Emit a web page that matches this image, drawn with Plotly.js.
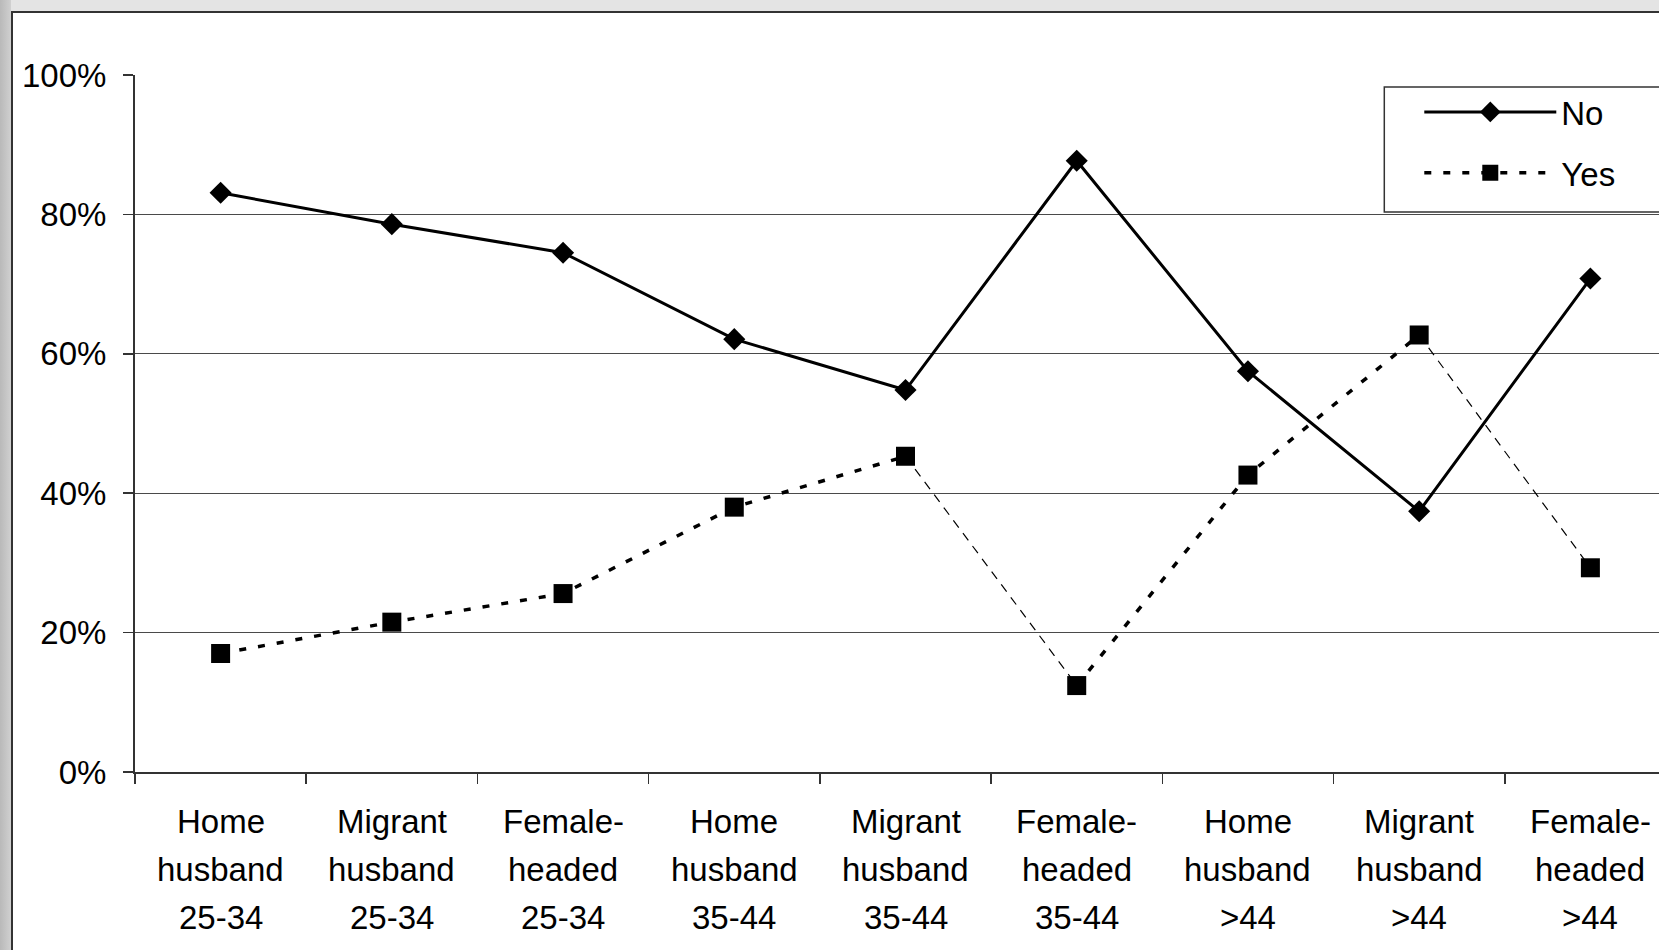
<!DOCTYPE html>
<html>
<head>
<meta charset="utf-8">
<script src="https://cdn.plot.ly/plotly-3.0.1.min.js"></script>
<style>
  html, body { margin: 0; padding: 0; width: 1659px; height: 950px; overflow: hidden; background: #e4e4e4; }
  #edge { position: absolute; left: 0; top: 0; width: 11px; height: 950px;
          background: linear-gradient(to right, #b9b9b9, #d0d0d0); }
  #frame { position: absolute; left: 11px; top: 11px; width: 1720px; height: 1000px;
           background: #ffffff; border-left: 2px solid #333; border-top: 2px solid #333; }
  #chart { position: absolute; left: 0; top: 0; width: 1700px; height: 950px; }
</style>
</head>
<body>
<div id="edge"></div>
<div id="frame"></div>
<div id="chart"></div>
<script>
// Household type by age group
const categories = [
  'Home<br>husband<br>25-34',
  'Migrant<br>husband<br>25-34',
  'Female-<br>headed<br>25-34',
  'Home<br>husband<br>35-44',
  'Migrant<br>husband<br>35-44',
  'Female-<br>headed<br>35-44',
  'Home<br>husband<br>>44',
  'Migrant<br>husband<br>>44',
  'Female-<br>headed<br>>44'
];

// Share of households (%) answering No / Yes
const noValues  = [83.1, 78.6, 74.5, 62.1, 54.8, 87.7, 57.5, 37.4, 70.8];
const yesValues = [17.0, 21.5, 25.6, 38.0, 45.3, 12.4, 42.6, 62.7, 29.3];

const yTicks = [0, 20, 40, 60, 80, 100];

// Segments of the "Yes" line drawn with a fine dash (index of the segment's first point)
const fineSegmentStarts = [4, 7];

// Page geometry (px)
const W = 1700, H = 950;
const plotLeft = 134.5, plotTop = 75, plotBottom = 772;
const catWidth = 171.25;
const plotRight = plotLeft + categories.length * catWidth;

const toPaperX = px => (px - plotLeft) / (plotRight - plotLeft);
const toPaperY = py => (plotBottom - py) / (plotBottom - plotTop);

const FONT = 'Liberation Sans, Arial, Helvetica, sans-serif';
const FS = 33;

// Split a series into the coarse-dotted path (gaps where fine segments are) and the fine path
function splitSeries(xs, ys, fineStarts) {
  const coarse = { x: [], y: [] };
  const fine = { x: [], y: [] };
  xs.forEach((x, i) => {
    coarse.x.push(x); coarse.y.push(ys[i]);
    if (fineStarts.includes(i)) {
      coarse.x.push(null); coarse.y.push(null);
      fine.x.push(x, xs[i + 1], null);
      fine.y.push(ys[i], ys[i + 1], null);
    }
  });
  return { coarse, fine };
}

const yesParts = splitSeries(categories, yesValues, fineSegmentStarts);

const traces = [
  {
    name: 'No',
    legendgroup: 'no',
    x: categories,
    y: noValues,
    type: 'scatter',
    mode: 'lines+markers',
    line: { color: '#000000', width: 3 },
    marker: { symbol: 'diamond', size: 17, color: '#000000', line: { width: 0 } },
    hoverinfo: 'skip'
  },
  {
    name: 'Yes',
    legendgroup: 'yes',
    showlegend: false,
    x: yesParts.fine.x,
    y: yesParts.fine.y,
    type: 'scatter',
    mode: 'lines',
    connectgaps: false,
    line: { color: '#000000', width: 1.2, dash: '9px,7px' },
    hoverinfo: 'skip'
  },
  {
    name: 'Yes',
    legendgroup: 'yes',
    x: yesParts.coarse.x,
    y: yesParts.coarse.y,
    type: 'scatter',
    mode: 'lines+markers',
    connectgaps: false,
    line: { color: '#000000', width: 3.5, dash: '7px,12px' },
    marker: { symbol: 'square', size: 19, color: '#000000', line: { width: 0 } },
    hoverinfo: 'skip'
  }
];

// Multi-line category labels, one annotation per line for wider line spacing
const labelAnnotations = [];
categories.forEach(cat => {
  cat.split('<br>').forEach((line, j) => {
    labelAnnotations.push({
      x: cat, xref: 'x',
      y: 0, yref: 'paper',
      yanchor: 'middle', xanchor: 'center',
      yshift: -(49 + 48 * j),
      text: line,
      showarrow: false,
      font: { family: FONT, size: FS, color: '#000000' }
    });
  });
});

const layout = {
  width: W,
  height: H,
  margin: { l: plotLeft, r: W - plotRight, t: plotTop, b: H - plotBottom, pad: 0 },
  paper_bgcolor: 'rgba(0,0,0,0)',
  plot_bgcolor: 'rgba(0,0,0,0)',
  font: { family: FONT, size: FS, color: '#000000' },
  showlegend: true,
  legend: {
    x: toPaperX(1419), xanchor: 'left',
    y: toPaperY(84), yanchor: 'top',
    bgcolor: 'rgba(0,0,0,0)',
    borderwidth: 0,
    itemwidth: 132,
    traceorder: 'grouped',
    tracegroupgap: 15,
    font: { family: FONT, size: FS, color: '#000000' }
  },
  xaxis: {
    type: 'category',
    categoryorder: 'array',
    categoryarray: categories,
    range: [-0.5, categories.length - 0.5],
    showticklabels: false,
    ticks: 'outside',
    tickson: 'boundaries',
    ticklen: 10,
    tickwidth: 1.5,
    tickcolor: '#333333',
    showline: true,
    linecolor: '#333333',
    linewidth: 2,
    showgrid: false,
    zeroline: false,
    fixedrange: true
  },
  yaxis: {
    range: [0, 100],
    tickvals: yTicks,
    ticktext: yTicks.map(v => v + '%'),
    ticks: 'outside',
    ticklen: 10,
    tickwidth: 1.5,
    tickcolor: '#333333',
    ticklabelstandoff: 10,
    tickfont: { family: FONT, size: FS, color: '#000000' },
    showline: true,
    linecolor: '#333333',
    linewidth: 2,
    showgrid: true,
    gridcolor: '#4a4a4a',
    gridwidth: 1,
    zeroline: false,
    fixedrange: true
  },
  shapes: [
    {
      // legend frame
      type: 'rect', xref: 'paper', yref: 'paper',
      x0: toPaperX(1384), x1: toPaperX(1740),
      y0: toPaperY(212), y1: toPaperY(87),
      line: { color: '#333333', width: 1.5 },
      fillcolor: '#ffffff',
      layer: 'below'
    }
  ],
  annotations: labelAnnotations
};

Plotly.newPlot('chart', traces, layout, { displayModeBar: false, staticPlot: true });
</script>
</body>
</html>
